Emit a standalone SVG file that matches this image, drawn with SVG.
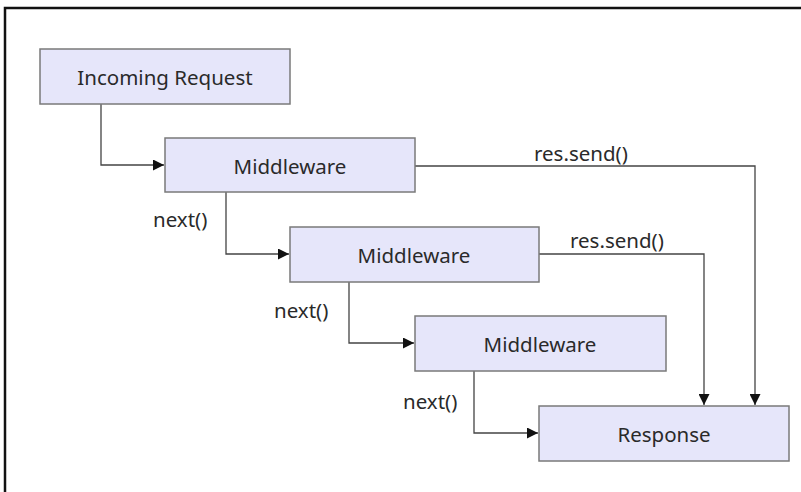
<svg xmlns="http://www.w3.org/2000/svg" width="801" height="492" viewBox="0 0 801 492">
<style>
.node rect{fill:#e6e6fa;stroke:#7a7a7a;stroke-width:1.5}
.node text{font-family:"Noto Sans","Open Sans",sans-serif;font-size:20.5px;fill:#2a2a2a;text-anchor:middle;dominant-baseline:central}
.edge{fill:none;stroke:#444;stroke-width:1.3}
.lbl{font-family:"Noto Sans","Open Sans",sans-serif;font-size:20.5px;fill:#2a2a2a;dominant-baseline:central}
</style>
<defs>
<marker id="arr" viewBox="0 0 10 10" refX="10" refY="5" markerWidth="11" markerHeight="11" markerUnits="userSpaceOnUse" orient="auto">
<path d="M0,0 L10,5 L0,10 z" fill="#111"/>
</marker>
</defs>
<rect x="0" y="0" width="801" height="492" fill="#fff"/>
<path d="M5,492 V8 H801" fill="none" stroke="#111" stroke-width="2.5"/>
<g id="connectors">
<path class="edge" d="M101,104 V165 H164" marker-end="url(#arr)"/>
<path class="edge" d="M226,192 V254 H289" marker-end="url(#arr)"/>
<path class="edge" d="M349,282 V343 H414" marker-end="url(#arr)"/>
<path class="edge" d="M474,371 V433 H538" marker-end="url(#arr)"/>
<path class="edge" d="M415,166 H755 V405" marker-end="url(#arr)"/>
<path class="edge" d="M539,254 H704 V405" marker-end="url(#arr)"/>
<text class="lbl" x="153" y="219">next()</text>
<text class="lbl" x="274" y="310">next()</text>
<text class="lbl" x="403" y="401">next()</text>
<text class="lbl" x="534" y="153">res.send()</text>
<text class="lbl" x="570" y="240">res.send()</text>
</g>
<g id="incoming" class="node"><rect x="40" y="49" width="250" height="55"/><text x="165" y="77">Incoming Request</text></g>
<g id="mw1" class="node"><rect x="165" y="138" width="250" height="54"/><text x="290" y="166">Middleware</text></g>
<g id="mw2" class="node"><rect x="290" y="227" width="249" height="55"/><text x="414" y="255">Middleware</text></g>
<g id="mw3" class="node"><rect x="415" y="316" width="251" height="55"/><text x="540" y="344">Middleware</text></g>
<g id="response" class="node"><rect x="539" y="406" width="250" height="55"/><text x="664" y="434">Response</text></g>
</svg>
